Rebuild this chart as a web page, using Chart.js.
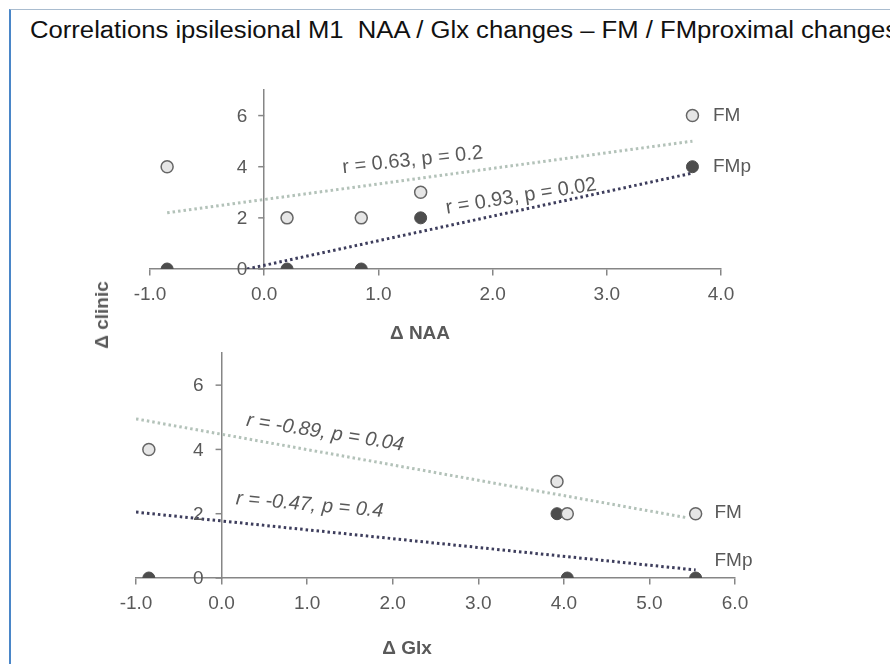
<!DOCTYPE html>
<html>
<head>
<meta charset="utf-8">
<script src="https://cdn.jsdelivr.net/npm/chart.js@4.4.1/dist/chart.umd.min.js"></script>
<style>
  body { margin: 0; background: #fff; font-family: "Liberation Sans", Arial, sans-serif; }
  #page { position: relative; width: 890px; height: 664px; overflow: hidden; }
  #frame { position: absolute; left: 9px; top: 9px; width: 900px; height: 700px;
           border-left: 2px solid #4a86c8; border-top: 1px solid #a9bccf; }
  #title { position: absolute; left: 30px; top: 17px; font-size: 23px; color: #111; white-space: nowrap;
           transform: scaleX(1.115); transform-origin: left center; }
  .axis-title { position: absolute; font-weight: bold; font-size: 19px; color: #595959;
                white-space: nowrap; transform: translate(-50%, -50%); }
  canvas { position: absolute; left: 0; }
</style>
</head>
<body>
<div id="page">
  <div id="frame"></div>
  <div id="title">Correlations ipsilesional M1&nbsp; NAA / Glx changes – FM / FMproximal changes</div>
  <canvas id="naa-chart" width="890" height="340" style="top:0"></canvas>
  <canvas id="glx-chart" width="890" height="324" style="top:340px"></canvas>
  <div class="axis-title" style="left:420px; top:333px">Δ NAA</div>
  <div class="axis-title" style="left:407px; top:648px">Δ Glx</div>
  <div class="axis-title" style="left:102px; top:315px; transform: translate(-50%, -50%) rotate(-90deg)">Δ clinic</div>
</div>
<script>
// top panel: change in NAA vs clinical change
const naaX = [-0.85, 0.2, 0.85, 1.37, 3.75];
const naaFM = [4, 2, 2, 3, 6];
const naaFMp = [0, 0, 0, 2, 4];
// trend line endpoints as drawn (x, y)
const naaFitFMx = [-0.85, 3.75];
const naaFitFMy = [2.2, 5.0];
const naaFitFMpx = [-0.15, 3.75];
const naaFitFMpy = [0, 3.75];

// bottom panel: change in Glx vs clinical change
const glxX = [-0.85, 3.92, 4.04, 5.54];
const glxFM = [4, 3, 2, 2];
const glxFMp = [0, 2, 0, 0];
const glxFitFMx = [-1.0, 5.43];
const glxFitFMy = [4.95, 1.88];
const glxFitFMpx = [-1.0, 5.54];
const glxFitFMpy = [2.05, 0.25];

const tickColor = "#595959";
const axisColor = "#868686";
const fontFamily = '"Liberation Sans", Arial, sans-serif';

function toPoints(xs, ys) {
    return xs.map((x, i) => ({ x: x, y: ys[i] }));
}

// text labels (r/p values and series names) placed in data coordinates
const notesPlugin = {
    id: "notes",
    afterDatasetsDraw(chart, args, opts) {
        const { ctx } = chart;
        const xs = chart.scales.x, ys = chart.scales.y;
        (opts.items || []).forEach(n => {
            ctx.save();
            ctx.translate(xs.getPixelForValue(n.x), ys.getPixelForValue(n.y));
            ctx.rotate((n.angle || 0) * Math.PI / 180);
            ctx.font = (n.italic ? "italic " : "") + (n.size || 20) + "px " + fontFamily;
            ctx.fillStyle = tickColor;
            ctx.textAlign = n.align || "center";
            ctx.textBaseline = "middle";
            ctx.fillText(n.text, 0, 0);
            ctx.restore();
        });
    }
};

// y axis sits at x = 0: draw its tick marks and labels to the left of it
const yTicksPlugin = {
    id: "yTicks",
    afterDraw(chart, args, opts) {
        const { ctx } = chart;
        const xs = chart.scales.x, ys = chart.scales.y;
        const ax = xs.getPixelForValue(0);
        ctx.save();
        ctx.strokeStyle = axisColor;
        ctx.lineWidth = 1.5;
        ctx.fillStyle = tickColor;
        ctx.font = "19px " + fontFamily;
        ctx.textAlign = "right";
        ctx.textBaseline = "middle";
        ys.ticks.forEach(t => {
            const py = ys.getPixelForValue(t.value);
            ctx.beginPath();
            ctx.moveTo(ax - 6, py);
            ctx.lineTo(ax, py);
            ctx.stroke();
            ctx.fillText(String(t.value), ax - (opts.gap || 17), py + 1);
        });
        ctx.restore();
    }
};

function makeChart(id, cfg) {
    const ctx = document.getElementById(id).getContext("2d");
    return new Chart(ctx, {
        type: "scatter",
        data: {
            datasets: [
                {
                    label: "FM",
                    data: toPoints(cfg.x, cfg.fm),
                    backgroundColor: "#e6e6e6",
                    borderColor: "#666666",
                    borderWidth: 1.5,
                    pointRadius: 6,
                    order: 0,
                },
                {
                    label: "FMp",
                    data: toPoints(cfg.x, cfg.fmp),
                    backgroundColor: "#4d4d4d",
                    borderColor: "#4d4d4d",
                    borderWidth: 1,
                    pointRadius: 6,
                    order: 0,
                },
                {
                    label: "FM trend",
                    data: toPoints(cfg.fitFMx, cfg.fitFMy),
                    showLine: true,
                    borderColor: "#b3c2b9",
                    borderWidth: 3,
                    borderDash: [2.5, 3],
                    pointRadius: 0,
                    order: 1,
                },
                {
                    label: "FMp trend",
                    data: toPoints(cfg.fitFMpx, cfg.fitFMpy),
                    showLine: true,
                    borderColor: "#3d3d5c",
                    borderWidth: 3,
                    borderDash: [2.5, 3],
                    pointRadius: 0,
                    order: 1,
                },
            ],
        },
        options: {
            responsive: false,
            animation: false,
            layout: { padding: cfg.padding },
            scales: {
                x: {
                    type: "linear",
                    position: { y: 0 },
                    min: -1,
                    max: cfg.xMax,
                    ticks: {
                        stepSize: 1,
                        color: tickColor,
                        font: { family: fontFamily, size: 19 },
                        padding: 8,
                        callback: v => v.toFixed(1),
                    },
                    grid: { drawOnChartArea: false, tickLength: 6, color: axisColor, lineWidth: 1.5 },
                    border: { display: true, color: axisColor, width: 1.5 },
                },
                y: {
                    type: "linear",
                    position: { x: 0 },
                    min: 0,
                    max: 7,
                    ticks: {
                        stepSize: 2,
                        includeBounds: false,
                        display: false,
                    },
                    grid: { drawOnChartArea: false, drawTicks: false },
                    border: { display: true, color: axisColor, width: 1.5 },
                },
            },
            plugins: {
                legend: { display: false },
                tooltip: { enabled: false },
                notes: { items: cfg.notes },
                yTicks: { gap: cfg.yGap },
            },
        },
        plugins: [notesPlugin, yTicksPlugin],
    });
}

makeChart("naa-chart", {
    x: naaX, fm: naaFM, fmp: naaFMp,
    fitFMx: naaFitFMx, fitFMy: naaFitFMy, fitFMpx: naaFitFMpx, fitFMpy: naaFitFMpy,
    xMax: 4,
    yGap: 17,
    padding: { left: 150, right: 169, top: 90, bottom: 71 },
    notes: [
        { text: "r = 0.63, p = 0.2", x: 1.3, y: 4.25, angle: -6 },
        { text: "r = 0.93, p = 0.02", x: 2.25, y: 2.84, angle: -9 },
        { text: "FM", x: 3.93, y: 5.98, align: "left", size: 19 },
        { text: "FMp", x: 3.93, y: 4.0, align: "left", size: 19 },
    ],
});

makeChart("glx-chart", {
    x: glxX, fm: glxFM, fmp: glxFMp,
    fitFMx: glxFitFMx, fitFMy: glxFitFMy, fitFMpx: glxFitFMpx, fitFMpy: glxFitFMpy,
    xMax: 6,
    yGap: 18,
    padding: { left: 136, right: 155, top: 13, bottom: 86 },
    notes: [
        { text: "r = -0.89, p = 0.04", x: 1.21, y: 4.52, angle: 9, italic: true },
        { text: "r = -0.47, p = 0.4", x: 1.03, y: 2.27, angle: 5, italic: true },
        { text: "FM", x: 5.76, y: 2.02, align: "left", size: 19 },
        { text: "FMp", x: 5.76, y: 0.53, align: "left", size: 19 },
    ],
});
</script>
</body>
</html>
